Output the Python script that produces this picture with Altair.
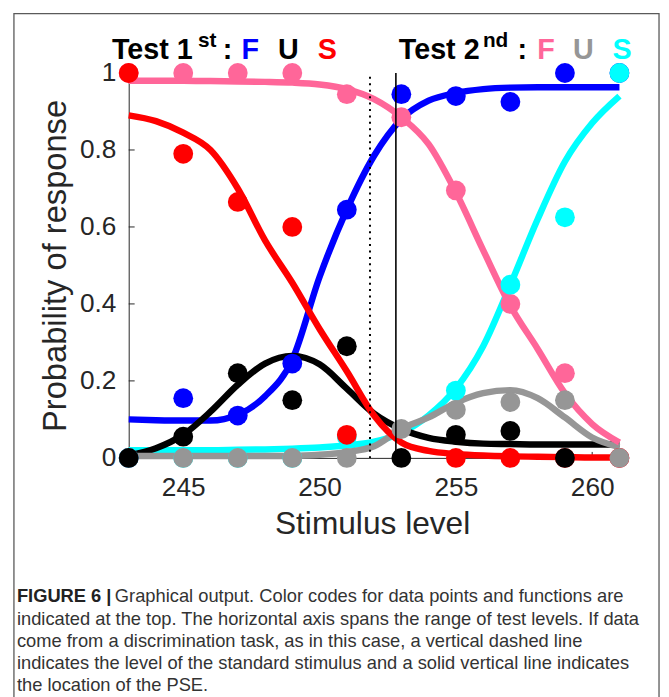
import altair as alt
import pandas as pd

# ---------------- data ----------------
levels = [243, 245, 247, 249, 251, 253, 255, 257, 259, 261]

# Test 1st: F (blue), U (black), S (red)
f1_pts = [0.0, 0.155, 0.11, 0.245, 0.645, 0.945, 0.94, 0.925, 1.0, 1.0]
u1_pts = [0.0, 0.055, 0.22, 0.15, 0.29, 0.0, 0.06, 0.07, 0.0, None]
s1_pts = [1.0, 0.79, 0.665, 0.60, 0.06, None, 0.0, 0.0, 0.0, 0.0]
# Test 2nd: F (pink), U (gray), S (cyan)
f2_pts = [1.0, 1.0, 1.0, 1.0, 0.945, 0.885, 0.695, 0.40, 0.22, 0.0]
u2_pts = [0.0, 0.0, 0.0, 0.0, 0.0, 0.075, 0.125, 0.145, 0.15, 0.0]
s2_pts = [0.0, 0.0, 0.0, 0.0, 0.055, None, 0.175, 0.45, 0.625, 1.0]

# fitted functions, read at each stimulus level
curve_x = list(range(243, 262))
f1_fit = [0.10, 0.098, 0.097, 0.097, 0.112, 0.16, 0.255, 0.47, 0.645, 0.785,
          0.88, 0.928, 0.948, 0.958, 0.962, 0.963, 0.963, 0.963, 0.963]
u1_fit = [0.006, 0.025, 0.06, 0.12, 0.19, 0.245, 0.265, 0.243, 0.18, 0.115,
          0.075, 0.052, 0.042, 0.037, 0.036, 0.035, 0.035, 0.035, 0.035]
s1_fit = [0.89, 0.875, 0.845, 0.80, 0.70, 0.565, 0.455, 0.335, 0.225, 0.11,
          0.04, 0.018, 0.01, 0.006, 0.004, 0.003, 0.002, 0.001, 0.001]
f2_fit = [0.98, 0.98, 0.98, 0.979, 0.978, 0.977, 0.975, 0.97, 0.958, 0.932,
          0.885, 0.815, 0.69, 0.54, 0.395, 0.283, 0.168, 0.088, 0.04]
u2_fit = [0.005, 0.005, 0.005, 0.005, 0.005, 0.005, 0.005, 0.008, 0.015, 0.03,
          0.075, 0.105, 0.143, 0.168, 0.176, 0.155, 0.105, 0.053, 0.028]
s2_fit = [0.02, 0.02, 0.02, 0.02, 0.021, 0.022, 0.024, 0.027, 0.032, 0.042,
          0.065, 0.11, 0.18, 0.29, 0.45, 0.62, 0.77, 0.87, 0.94]

standard_level = [251.85]
pse_level = [252.8]

x_ticks = [245, 250, 255, 260]
y_ticks = [0, 0.2, 0.4, 0.6, 0.8, 1]

caption_lines = [
    "indicated at the top. The horizontal axis spans the range of test levels. If data",
    "come from a discrimination task, as in this case, a vertical dashed line",
    "indicates the level of the standard stimulus and a solid vertical line indicates",
    "the location of the PSE.",
]
caption_first = "Graphical output. Color codes for data points and functions are"

# ---------------- styling ----------------
FONT = "Liberation Sans"
AX = "#262626"
BLUE, BLACK, RED = "#0000FF", "#000000", "#FF0000"
PINK, GRAY, CYAN = "#FF6699", "#969696", "#00FFFF"

W, H = 496, 389

xs = alt.Scale(domain=[243, 261], nice=False, zero=False)
ys = alt.Scale(domain=[0, 1], nice=False, zero=False)

xaxis = alt.Axis(values=x_ticks, title="Stimulus level", titleFont=FONT, titleFontSize=32,
                 titleFontWeight="normal", titleColor=AX, titleX=246, titleY=76,
                 titleAlign="center", titleBaseline="alphabetic",
                 labelFont=FONT, labelFontSize=26.5, labelColor=AX, labelPadding=17,
                 labelFlush=False, ticks=False, tickSize=0, domainColor=AX, domainWidth=1,
                 grid=False)
yaxis = alt.Axis(values=y_ticks, format="~g", title="Probability of response", titleFont=FONT,
                 titleFontSize=33, titleFontWeight="normal", titleColor=AX, titleAngle=270,
                 titleX=-64, titleY=194.5, titleAlign="center", titleBaseline="alphabetic",
                 labelFont=FONT, labelFontSize=26.5, labelColor=AX, labelPadding=13,
                 labelFlush=False, ticks=False, tickSize=0, domainColor=AX, domainWidth=1,
                 grid=False)

X = alt.X("x:Q", scale=xs, axis=xaxis)
Y = alt.Y("p:Q", scale=ys, axis=yaxis)


def curve(fit, color):
    df = pd.DataFrame({"x": curve_x, "p": fit})
    return alt.Chart(df).mark_line(color=color, strokeWidth=6.5, interpolate="monotone",
                                   strokeCap="butt").encode(x=X, y=Y)


def points(vals, color):
    df = pd.DataFrame({"x": levels, "p": vals}).dropna()
    return alt.Chart(df).mark_circle(color=color, size=400, opacity=1).encode(x=X, y=Y)


one = pd.DataFrame({"k": [0]})


def txt(s, x, y, size, color, weight="bold", align="left", baseline="alphabetic", **kw):
    return alt.Chart(one).mark_text(text=s, font=FONT, fontSize=size, fontWeight=weight,
                                    color=color, align=align, baseline=baseline, **kw).encode(
        x=alt.value(x), y=alt.value(y))


border = alt.Chart(one).mark_rect(fill="white", fillOpacity=0, stroke="#5a5a5a",
                                  strokeWidth=1.3).encode(
    x=alt.value(-116), x2=alt.value(536), y=alt.value(-60), y2=alt.value(680))

ytick_rules = alt.Chart(pd.DataFrame({"p": y_ticks[1:-1]})).mark_rule(
    color=AX, strokeWidth=1).encode(y=Y, x=alt.value(0), x2=alt.value(6))
xtick_rules = alt.Chart(pd.DataFrame({"x": x_ticks})).mark_rule(
    color=AX, strokeWidth=1).encode(x=X, y=alt.value(H), y2=alt.value(H - 6))

std_line = alt.Chart(pd.DataFrame({"x": standard_level, "p": [0.99], "p0": [0.0]})).mark_rule(
    color="black", strokeWidth=2, strokeDash=[2, 4.5]).encode(x=X, y=Y, y2="p0:Q")
pse_line = alt.Chart(pd.DataFrame({"x": pse_level, "p": [1.0], "p0": [0.0]})).mark_rule(
    color="black", strokeWidth=1.6).encode(x=X, y=Y, y2="p0:Q")

layers = [border, ytick_rules, xtick_rules,
          curve(s2_fit, CYAN), curve(f1_fit, BLUE), curve(u1_fit, BLACK),
          curve(u2_fit, GRAY), curve(s1_fit, RED), curve(f2_fit, PINK),
          points(f2_pts, PINK), points(f1_pts, BLUE), points(s2_pts, CYAN),
          points(s1_pts, RED), points(u2_pts, GRAY), points(u1_pts, BLACK),
          std_line, pse_line]

# header "Test 1st: F U S   Test 2nd: F U S"
layers += [
    txt("Test 1", -17, -14, 29, BLACK),
    txt("st", 70, -26, 21, BLACK),
    txt(":", 95, -14, 29, BLACK),
    txt("F", 114, -14, 29, BLUE),
    txt("U", 151, -14, 29, BLACK),
    txt("S", 191, -14, 29, RED),
    txt("Test 2", 273, -14, 29, BLACK),
    txt("nd", 358, -26, 21, BLACK),
    txt(":", 393, -14, 29, BLACK),
    txt("F", 413, -14, 29, PINK),
    txt("U", 449, -14, 29, GRAY),
    txt("S", 489, -14, 29, CYAN),
]

# caption
layers += [
    txt("FIGURE 6 |", -113, 535, 18.5, "#222222"),
    txt(caption_first, -14, 535, 18.5, "#333333", weight="normal"),
    txt(caption_lines, -113, 557.5, 18.5, "#333333", weight="normal", lineHeight=22.5),
]

chart = alt.layer(*layers).properties(
    width=W, height=H,
    padding={"left": 122, "top": 62, "right": 42, "bottom": 240},
    autosize=alt.AutoSizeParams(type="none"),
    background="white",
).configure_view(stroke=None)

chart.save("out.html", embed_options={"renderer": "svg", "actions": False})
